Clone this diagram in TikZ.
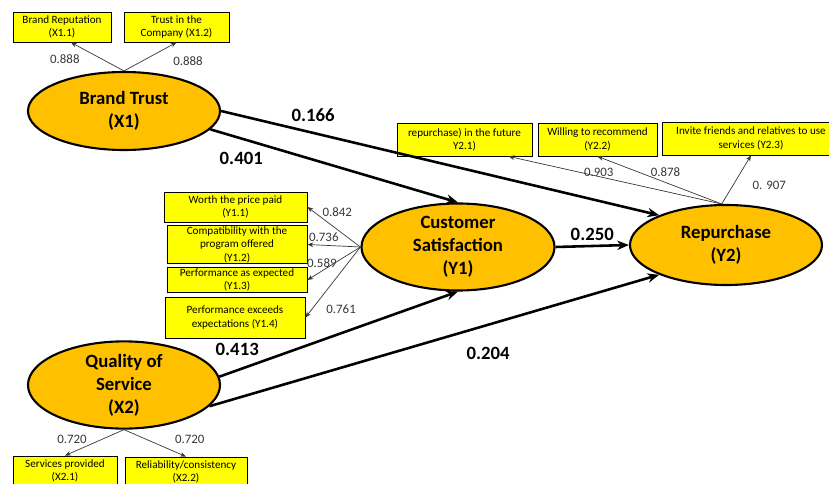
\documentclass[tikz,border=0pt]{standalone}
\usepackage{fontspec}
\setmainfont{Carlito}
\usepackage{tikz}
\usetikzlibrary{arrows.meta,shapes.geometric,positioning}
\definecolor{latentOrange}{RGB}{255,192,0}
\definecolor{itemYellow}{RGB}{255,255,0}
\definecolor{loadGray}{RGB}{55,55,55}

\begin{document}
\begin{tikzpicture}[x=0.03cm,y=-0.03cm,
    latent/.style={ellipse, draw=black, line width=1.8pt, fill=latentOrange,
        inner sep=0pt, align=center, font=\bfseries\fontsize{16}{19.5}\selectfont},
    indicator/.style={draw=black, line width=0.7pt, fill=itemYellow, inner sep=1pt,
        align=center, font=\fontsize{9.5}{11.5}\selectfont},
    effect/.style={line width=2.2pt, -{Stealth[length=10pt,width=8pt]}},
    loading/.style={line width=0.6pt, draw=loadGray, -{Stealth[length=5pt,width=4pt]}},
    coef/.style={inner sep=0pt, font=\bfseries\fontsize{16}{19}\selectfont},
    lval/.style={inner sep=0pt, text=loadGray, font=\fontsize{11}{13}\selectfont}]

\useasboundingbox (0,0) rectangle (829,484);

% =========================
% 1. latent variables
% =========================
\node[latent, minimum width=5.76cm, minimum height=2.34cm] (X1) at (124,111) {Brand Trust\\(X1)};
\node[latent, minimum width=5.76cm, minimum height=2.55cm] (X2) at (124,385) {Quality of\\Service\\(X2)};
\node[latent, minimum width=5.79cm, minimum height=2.61cm] (Y1) at (458,247) {Customer\\Satisfaction\\(Y1)};
\node[latent, minimum width=5.76cm, minimum height=2.4cm] (Y2) at (726,245) {Repurchase\\(Y2)};

% =========================
% 2. indicators
% =========================
% brand trust
\node[indicator, minimum width=2.94cm, minimum height=0.9cm] (X11) at (62,27) {Brand Reputation\\(X1.1)};
\node[indicator, minimum width=3.15cm, minimum height=0.9cm] (X12) at (176.5,27) {Trust in the\\Company (X1.2)};

% customer satisfaction
\node[indicator, minimum width=4.29cm, minimum height=0.9cm] (Y11) at (235.5,207) {Worth the price paid\\(Y1.1)};
\node[indicator, minimum width=4.2cm, minimum height=1.05cm] (Y12) at (237,244.5) {Compatibility with the\\program offered\\(Y1.2)};
\node[indicator, minimum width=4.2cm, minimum height=0.72cm] (Y13) at (237,280) {Performance as expected\\(Y1.3)};
\node[indicator, minimum width=4.2cm, minimum height=1.23cm] (Y14) at (235,317.5) {Performance exceeds\\expectations (Y1.4)};

% repurchase
\node[indicator, minimum width=4.05cm, minimum height=0.99cm] (Y21) at (464.5,139.5) {repurchase) in the future\\Y2.1)};
\node[indicator, minimum width=3.57cm, minimum height=0.99cm] (Y22) at (597.5,139.5) {Willing to recommend\\(Y2.2)};
\node[indicator, minimum width=5.34cm, minimum height=0.99cm] (Y23) at (751,138.5) {Invite friends and relatives to use\\services (Y2.3)};

% quality of service
\node[indicator, minimum width=3.12cm, minimum height=0.9cm] (X21) at (65,471) {Services provided\\(X2.1)};
\node[indicator, minimum width=3.66cm, minimum height=0.9cm] (X22) at (186,472) {Reliability/consistency\\(X2.2)};

% =========================
% 3. structural paths
% =========================
\draw[effect] (X1.-12) -- (Y1.north) node[coef, pos=0.125, below=11pt] {0.401};
\draw[effect] (X1.east) -- (Y2.156) node[coef, pos=0.21, above=8.5pt] {0.166};
\draw[effect] (X2.5) -- (Y1.south) node[coef, pos=0.075, above=11.5pt] {0.413};
\draw[effect] (X2.-14) -- (Y2.204) node[coef, pos=0.62, below=18pt] {0.204};
\draw[effect] (Y1.east) -- (Y2.west) node[coef, pos=0.5, above=3.4pt] {0.250};

% =========================
% 4. outer loadings
% =========================
\draw[loading] (X1.north) -- (X11.-60) node[lval, pos=0.4, left=19.5pt] {0.888};
\draw[loading] (X1.north) -- (X12.south) node[lval, pos=0.33, right=27pt] {0.888};

\draw[loading] (Y1.west) -- (Y11.east) node[lval, pos=0.436, above=11pt] {0.842};
\draw[loading] (Y1.west) -- (Y12.east) node[lval, pos=0.69, above=2.5pt] {0.736};
\draw[loading] (Y1.west) -- (Y13.east) node[lval, pos=0.727, above=2.4pt] {0.589};
\draw[loading] (Y1.west) -- (Y14.east) node[lval, pos=0.88, right=12pt] {0.761};

\draw[loading] (Y2.96) -- (Y21.-21) node[lval, pos=0.577, yshift=3.4pt] {0.903};
\draw[loading] (Y2.96) -- (Y22.south) node[lval, pos=0.673, right=10.6pt] {0.878};
\draw[loading] (Y2.96) -- (Y23.south) node[lval, pos=0.38, right=16.6pt] {0. 907};

\draw[loading] (X2.south) -- (X21.north) node[lval, pos=0.357, left=13.5pt] {0.720};
\draw[loading] (X2.south) -- (X22.north) node[lval, pos=0.345, right=25pt] {0.720};

\end{tikzpicture}
\end{document}
